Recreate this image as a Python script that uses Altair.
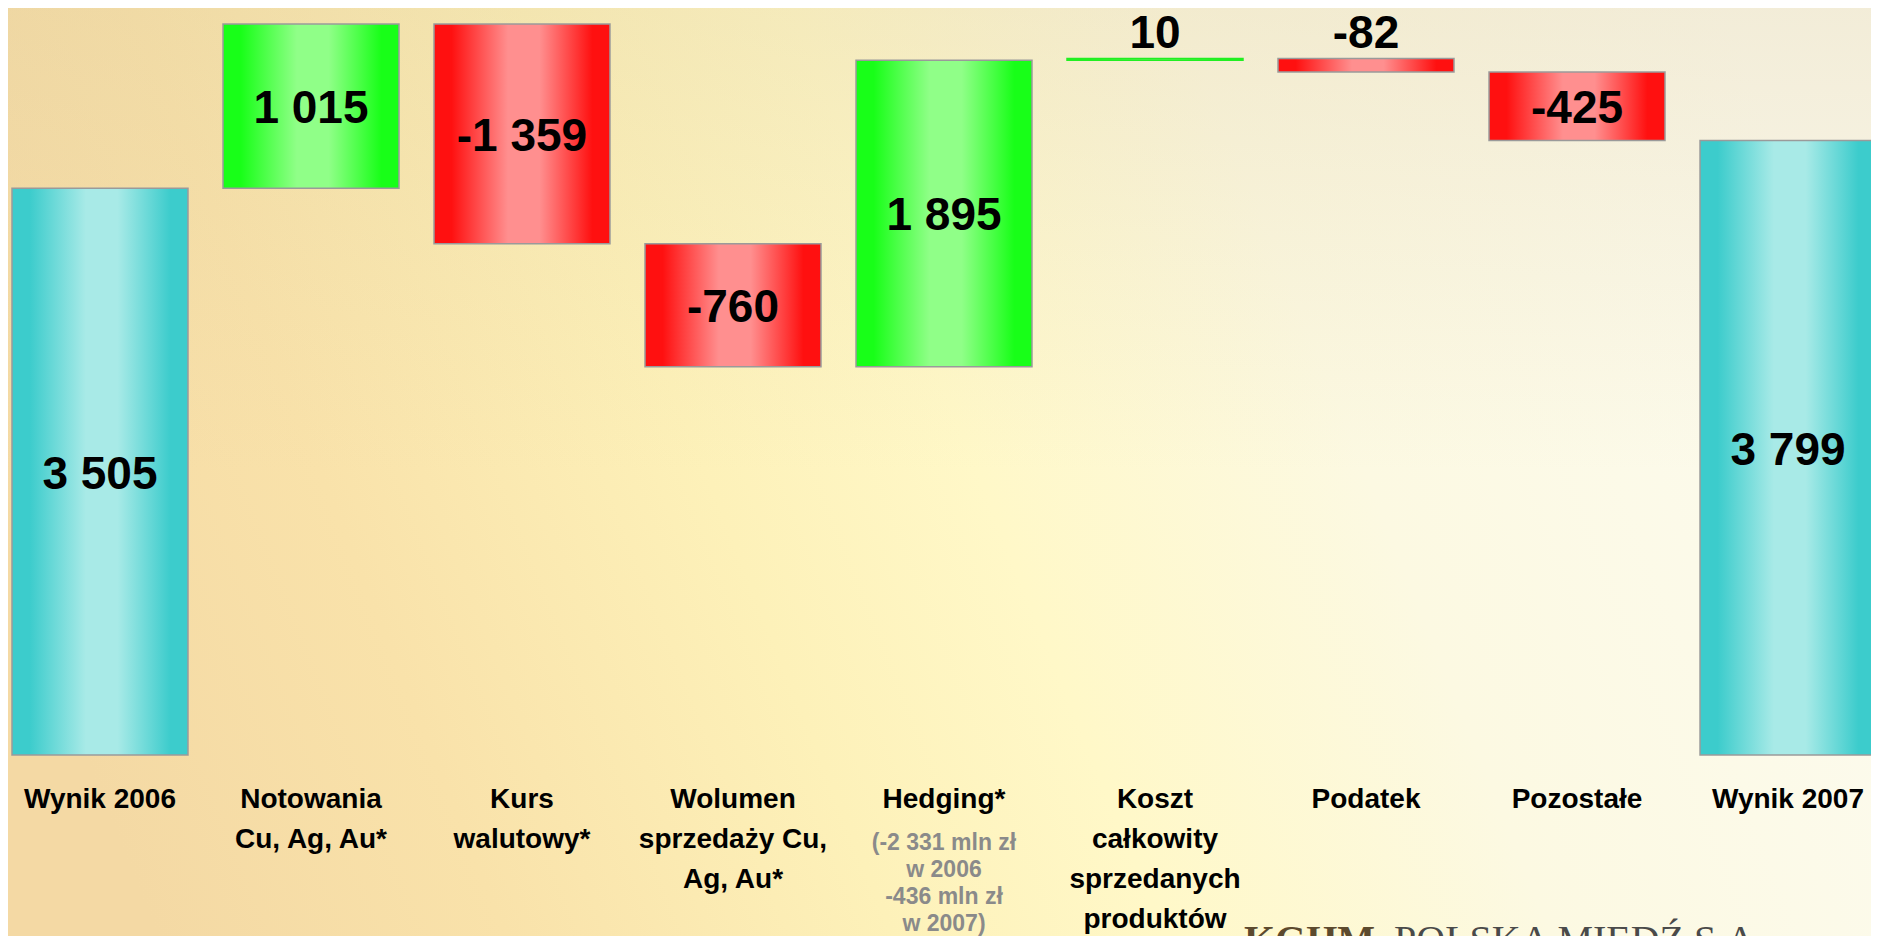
import altair as alt
import pandas as pd

# ---------------- data ----------------
categories = ["Wynik 2006", "Notowania Cu, Ag, Au*", "Kurs walutowy*",
              "Wolumen sprzedaży Cu, Ag, Au*", "Hedging*",
              "Koszt całkowity sprzedanych produktów", "Podatek",
              "Pozostałe", "Wynik 2007"]
label_lines = ["Wynik 2006", "Notowania|Cu, Ag, Au*", "Kurs|walutowy*",
               "Wolumen|sprzedaży Cu,|Ag, Au*", "Hedging*",
               "Koszt|całkowity|sprzedanych|produktów", "Podatek",
               "Pozostałe", "Wynik 2007"]
values = [3505, 1015, -1359, -760, 1895, 10, -82, -425, 3799]
kinds = ["total", "delta", "delta", "delta", "delta", "delta", "delta", "delta", "total"]
hedging_note = ["(-2 331 mln zł", "w 2006", "-436 mln zł", "w 2007)"]
logo_main = "KGHM"
logo_rest = "POLSKA  MIEDŹ  S.A."

# ------------- derived table -------------
rows = []
running = 0
for cat, lab, v, k in zip(categories, label_lines, values, kinds):
    if k == "total":
        start, end = 0, v
        running = v
        kind = "total"
    else:
        start, end = running, running + v
        running = end
        kind = "up" if v > 0 else "down"
    rows.append(dict(cat=cat, label=lab, value=v, start=start, end=end,
                     mid=(start + end) / 2, top=max(start, end), kind=kind,
                     text=f"{v:,}".replace(",", " "), small=abs(v) < 200))
df = pd.DataFrame(rows)

W, H = 1863, 928
FONT = "Liberation Sans"


def grad(edge, light, edge2=None):
    edge2 = edge2 or edge
    return alt.Gradient(
        gradient="linear", x1=0, y1=0, x2=1, y2=0,
        stops=[alt.GradientStop(offset=0, color=edge),
               alt.GradientStop(offset=0.1, color=edge),
               alt.GradientStop(offset=0.42, color=light),
               alt.GradientStop(offset=0.6, color=light),
               alt.GradientStop(offset=0.9, color=edge2),
               alt.GradientStop(offset=1, color=edge2)])


grad_total = grad("#3CCCCC", "#A8EAE7")
grad_up = grad("#18FF18", "#90FF88")
grad_down = grad("#FF1010", "#FF8F8F")

bg_grad = alt.Gradient(
    gradient="linear", x1=0, y1=0.6, x2=1, y2=0.4,
    stops=[alt.GradientStop(offset=0, color="#F4D9A4"),
           alt.GradientStop(offset=0.18, color="#F9E2AA"),
           alt.GradientStop(offset=0.38, color="#FDF1B9"),
           alt.GradientStop(offset=0.52, color="#FFF8C8"),
           alt.GradientStop(offset=0.72, color="#FCF9E2"),
           alt.GradientStop(offset=1, color="#FCFBEF")])
overlay_grad = alt.Gradient(
    gradient="linear", x1=0, y1=0, x2=0, y2=1,
    stops=[alt.GradientStop(offset=0, color="rgba(215,195,150,0.26)"),
           alt.GradientStop(offset=0.5, color="rgba(215,195,150,0.0)"),
           alt.GradientStop(offset=1, color="rgba(215,195,150,0.0)")])

one = pd.DataFrame({"a": [0]})
bg = alt.Chart(one).mark_rect(fill=bg_grad).encode(
    x=alt.value(0), x2=alt.value(W), y=alt.value(0), y2=alt.value(H))
overlay = alt.Chart(one).mark_rect(fill=overlay_grad).encode(
    x=alt.value(0), x2=alt.value(W), y=alt.value(0), y2=alt.value(H))

xscale = alt.Scale(domain=categories, range=[4, 1868], paddingInner=0.166, paddingOuter=0)
yscale = alt.Scale(domain=[-1119, 4619], nice=False, zero=False)

base = alt.Chart(df).encode(x=alt.X("cat:N", sort=categories, scale=xscale, axis=None))


def bars(kind, fill):
    return base.transform_filter(alt.datum.kind == kind).mark_bar(
        fill=fill, strokeWidth=1.5).encode(
        y=alt.Y("start:Q", scale=yscale, axis=None),
        y2="end:Q",
        stroke=alt.condition("abs(datum.value) < 50", alt.value("#22EE22"), alt.value("#9A9A9A")))


bar_total = bars("total", grad_total)
bar_up = bars("up", grad_up)
bar_down = bars("down", grad_down)

inside_text = base.transform_filter("!datum.small").mark_text(
    font=FONT, fontSize=46, fontWeight="bold", color="black", baseline="middle", dy=3).encode(
    y=alt.Y("mid:Q", scale=yscale), text="text:N")
outside_text = base.transform_filter("datum.small").mark_text(
    font=FONT, fontSize=46, fontWeight="bold", color="black", baseline="middle", dy=-25).encode(
    y=alt.Y("top:Q", scale=yscale), text="text:N")

cat_text = base.mark_text(
    font=FONT, fontSize=28, fontWeight="bold", color="black", baseline="top",
    lineBreak="|", lineHeight=40, align="center").encode(
    y=alt.value(778), text="label:N")

note_df = pd.DataFrame({"cat": ["Hedging*"], "note": ["|".join(hedging_note)]})
note_text = alt.Chart(note_df).mark_text(
    font=FONT, fontSize=23, fontWeight="bold", color="#8A8A8A", baseline="top",
    lineBreak="|", lineHeight=27, align="center").encode(
    x=alt.X("cat:N", sort=categories, scale=xscale, axis=None),
    y=alt.value(824), text="note:N")

logo_df = pd.DataFrame({"a": [logo_main], "b": [logo_rest]})
logo1 = alt.Chart(logo_df).mark_text(
    font="Liberation Serif", fontSize=40, fontWeight="bold", color="#5C4A2E",
    baseline="top", align="left").encode(x=alt.value(1236), y=alt.value(913), text="a:N")
logo2 = alt.Chart(logo_df).mark_text(
    font="Liberation Serif", fontSize=40, color="#4A4A4A",
    baseline="top", align="left").encode(x=alt.value(1386), y=alt.value(913), text="b:N")

chart = alt.layer(
    bg, overlay, bar_total, bar_up, bar_down, inside_text, outside_text,
    cat_text, note_text, logo1, logo2
).properties(
    width=W, height=H, padding=0,
    autosize=alt.AutoSizeParams(type="none"),
    background="#FBEFC4"
).configure_view(strokeWidth=0)

chart.save("out.html", embed_options={"renderer": "svg", "actions": False})
